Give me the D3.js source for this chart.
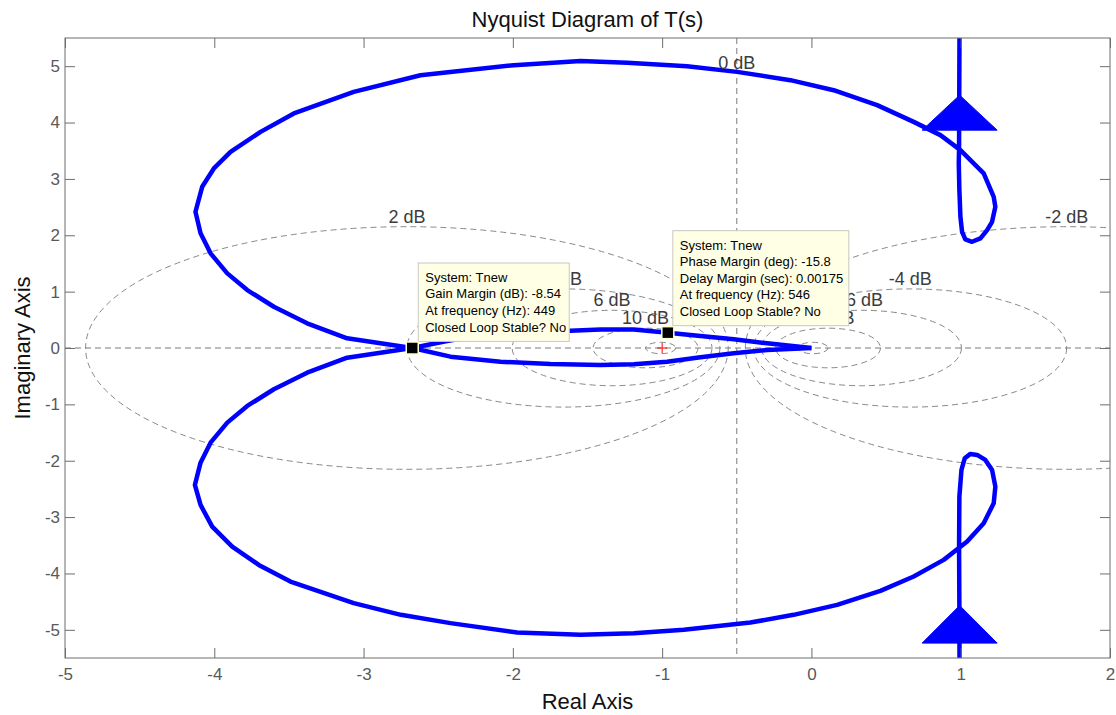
<!DOCTYPE html>
<html>
<head>
<meta charset="utf-8">
<script src="https://cdn.jsdelivr.net/npm/d3@7"></script>
<style>
  html, body { margin: 0; padding: 0; background: #fff; }
  svg { display: block; font-family: "Liberation Sans", Arial, sans-serif; }
</style>
</head>
<body>
<svg id="chart" width="1116" height="715"></svg>
<script>
// ---------------- DATA ----------------
const titleText = "Nyquist Diagram of T(s)";
const xLabelText = "Real Axis";
const yLabelText = "Imaginary Axis";
const xDomain = [-5, 2];
const yDomain = [-5.5, 5.5];
const xTicks = [-5, -4, -3, -2, -1, 0, 1, 2];
const yTicks = [-5, -4, -3, -2, -1, 0, 1, 2, 3, 4, 5];

// M-circle grid (closed-loop gain contours, dB)
const gridDb = [-20, -10, -6, -4, -2, 2, 4, 6, 10, 20];
const labelDb = [-10, -6, -4, -2, 2, 4, 6, 10];
const zeroDbRe = -0.5;

// Branch A: from Im=+inf down the loop, over the upper outer arc, through GM point, lower inner arc to origin
const branchARe = [0.993, 0.989, 0.987, 0.991, 0.998, 1.009, 1.031, 1.076, 1.132, 1.177, 1.210, 1.232, 1.221, 1.154, 0.998, 0.864, 0.685, 0.440, 0.149, -0.141, -0.498, -0.833, -1.234, -1.547, -1.994, -2.619, -3.066, -3.467, -3.690, -3.891, -4.003, -4.081, -4.126, -4.092, -4.025, -3.913, -3.779, -3.601, -3.378, -3.110, -2.887, -2.674, -2.418, -2.083, -1.748, -1.413, -1.190, -0.967, -0.743, -0.520, -0.297, 0.0];
const branchAIm = [6.5, 3.569, 3.275, 2.801, 2.328, 2.062, 1.927, 1.885, 1.945, 2.092, 2.239, 2.505, 2.683, 3.098, 3.511, 3.777, 4.012, 4.309, 4.574, 4.752, 4.899, 5.000, 5.059, 5.090, 5.018, 4.840, 4.544, 4.161, 3.835, 3.481, 3.186, 2.860, 2.417, 2.034, 1.679, 1.324, 1.028, 0.732, 0.438, 0.172, 0.085, 0.0, -0.154, -0.243, -0.284, -0.301, -0.289, -0.243, -0.165, -0.094, -0.035, 0.0];

// Branch B: from Im=-inf up the lower loop, lower outer arc, through GM point, upper inner arc to origin
const branchBRe = [0.993, 0.991, 0.989, 0.991, 1.005, 1.027, 1.065, 1.110, 1.165, 1.210, 1.232, 1.221, 1.154, 1.043, 0.886, 0.685, 0.462, 0.172, -0.119, -0.409, -0.855, -1.190, -1.547, -1.971, -2.418, -2.750, -3.066, -3.490, -3.702, -3.880, -4.014, -4.092, -4.130, -4.092, -4.025, -3.913, -3.779, -3.601, -3.378, -3.110, -2.887, -2.674, -2.450, -2.200, -1.900, -1.614, -1.413, -1.190, -0.962, -0.743, -0.520, -0.297, 0.0];
const branchBIm = [-6.5, -4.587, -3.523, -2.637, -2.163, -1.956, -1.879, -1.897, -1.986, -2.163, -2.459, -2.754, -3.108, -3.434, -3.759, -4.055, -4.309, -4.557, -4.734, -4.871, -5.000, -5.059, -5.089, -5.048, -4.881, -4.734, -4.527, -4.144, -3.848, -3.523, -3.168, -2.784, -2.430, -2.034, -1.679, -1.324, -1.028, -0.732, -0.438, -0.172, -0.085, 0.0, 0.120, 0.235, 0.290, 0.307, 0.330, 0.330, 0.272, 0.213, 0.154, 0.083, 0.0];

// direction arrows (tip and base on the vertical branches)
const arrowRe = [0.993, 0.993];
const arrowTipIm = [4.486, -4.569];
const arrowBaseIm = [3.865, -5.236];

// critical point
const criticalPoint = [-1, 0];

// data tips
const gmPoint = [-2.674, 0];
const gmLines = ["System: Tnew", "Gain Margin (dB): -8.54", "At frequency (Hz): 449", "Closed Loop Stable? No"];
const pmPoint = [-0.962, 0.272];
const pmLines = ["System: Tnew", "Phase Margin (deg): -15.8", "Delay Margin (sec): 0.00175", "At frequency (Hz): 546", "Closed Loop Stable? No"];

// ---------------- CHART ----------------
const svg = d3.select("#chart");
const L = 65, R = 1110, T = 38, B = 658;
const x = d3.scaleLinear().domain(xDomain).range([L, R]);
const y = d3.scaleLinear().domain(yDomain).range([B, T]);

svg.append("rect").attr("width", 1116).attr("height", 715).attr("fill", "#fff");

const defs = svg.append("defs");
defs.append("clipPath").attr("id", "plotclip")
  .append("rect").attr("x", L).attr("y", T).attr("width", R - L).attr("height", B - T);

const plot = svg.append("g").attr("clip-path", "url(#plotclip)");

const gridColor = "#7a7a7a";
const dash = "6,4";

// M circles
gridDb.forEach(db => {
  const M = Math.pow(10, db / 20);
  const c = -M * M / (M * M - 1);
  const r = Math.abs(M / (M * M - 1));
  plot.append("ellipse")
    .attr("cx", x(c)).attr("cy", y(0))
    .attr("rx", x(c + r) - x(c)).attr("ry", y(0) - y(r))
    .attr("fill", "none").attr("stroke", gridColor)
    .attr("stroke-width", 0.9).attr("stroke-dasharray", dash);
});
// 0 dB line
plot.append("line")
  .attr("x1", x(zeroDbRe)).attr("x2", x(zeroDbRe)).attr("y1", T).attr("y2", B)
  .attr("stroke", gridColor).attr("stroke-width", 1).attr("stroke-dasharray", dash);
// real axis
plot.append("line")
  .attr("x1", L).attr("x2", R).attr("y1", y(0)).attr("y2", y(0))
  .attr("stroke", gridColor).attr("stroke-width", 1).attr("stroke-dasharray", dash);

// curves
const line = d3.line().x(d => x(d[0])).y(d => y(d[1]));
[[branchARe, branchAIm], [branchBRe, branchBIm]].forEach(([re, im]) => {
  const pts = re.map((v, i) => [v, im[i]]);
  plot.append("path").attr("d", line(pts))
    .attr("fill", "none").attr("stroke", "#0000ff")
    .attr("stroke-width", 4.5).attr("stroke-linejoin", "round");
});
// arrows
const halfW = 37.5;
arrowRe.forEach((re, i) => {
  const tx = x(re), ty = y(arrowTipIm[i]), by = y(arrowBaseIm[i]);
  plot.append("path")
    .attr("d", `M${tx},${ty}L${tx + halfW},${by}L${tx - halfW},${by}Z`)
    .attr("fill", "#0000ff").attr("stroke", "#0000ff").attr("stroke-width", 1);
});
// critical point
{
  const cx = x(criticalPoint[0]), cy = y(criticalPoint[1]);
  plot.append("path").attr("d", `M${cx - 5},${cy}H${cx + 5}M${cx},${cy - 5}V${cy + 5}`)
    .attr("stroke", "#ff0000").attr("stroke-width", 1);
}

// dB labels
const dbLabelColor = "#3c3c3c";
labelDb.forEach(db => {
  const M = Math.pow(10, db / 20);
  const c = -M * M / (M * M - 1);
  const r = Math.abs(M / (M * M - 1));
  svg.append("text")
    .attr("x", x(c)).attr("y", y(r) - 4)
    .attr("text-anchor", "middle").attr("font-size", 18)
    .attr("fill", dbLabelColor)
    .text(db + " dB");
});
svg.append("text")
  .attr("x", x(zeroDbRe)).attr("y", y(yDomain[1] * 0.9))
  .attr("text-anchor", "middle").attr("font-size", 18)
  .attr("fill", dbLabelColor).text("0 dB");

// axes
const axisColor = "#6e6e6e";
const tickColor = "#595959";
function styleAxis(g) {
  g.select(".domain").remove();
  g.selectAll(".tick line").attr("stroke", axisColor);
  g.selectAll(".tick text").attr("fill", tickColor).attr("font-size", 17)
    .attr("font-family", "Liberation Sans, Arial, sans-serif");
}
svg.append("g").attr("transform", `translate(0,${B})`)
  .call(d3.axisBottom(x).tickValues(xTicks).tickSize(-10).tickPadding(10).tickFormat(d3.format("d")))
  .call(styleAxis);
svg.append("g").attr("transform", `translate(0,${T})`)
  .call(d3.axisTop(x).tickValues(xTicks).tickSize(-10).tickFormat(""))
  .call(styleAxis);
svg.append("g").attr("transform", `translate(${L},0)`)
  .call(d3.axisLeft(y).tickValues(yTicks).tickSize(-10).tickPadding(5).tickFormat(d3.format("d")))
  .call(styleAxis);
svg.append("g").attr("transform", `translate(${R},0)`)
  .call(d3.axisRight(y).tickValues(yTicks).tickSize(-10).tickFormat(""))
  .call(styleAxis);
// replace unicode minus with hyphen to mimic MATLAB
svg.selectAll(".tick text").text(function() { return d3.select(this).text().replace("\u2212", "-"); });

svg.append("rect").attr("x", L).attr("y", T).attr("width", R - L).attr("height", B - T)
  .attr("fill", "none").attr("stroke", axisColor).attr("stroke-width", 1);

// titles
svg.append("text").attr("x", (L + R) / 2).attr("y", 27)
  .attr("text-anchor", "middle").attr("font-size", 22).attr("fill", "#111")
  .text(titleText);
svg.append("text").attr("x", (L + R) / 2).attr("y", 709)
  .attr("text-anchor", "middle").attr("font-size", 22).attr("fill", "#111")
  .text(xLabelText);
svg.append("text").attr("transform", `translate(30,${(T + B) / 2}) rotate(-90)`)
  .attr("text-anchor", "middle").attr("font-size", 22).attr("fill", "#111")
  .text(yLabelText);

// data tips
function dataTip(pt, lines, dx, dy, w) {
  const px = x(pt[0]), py = y(pt[1]);
  const lh = 16.6, h = lines.length * lh + 12;
  const bx = px + dx, by = py + dy;
  const g = svg.append("g");
  g.append("rect").attr("x", bx).attr("y", by).attr("width", w).attr("height", h)
    .attr("fill", "#ffffe6").attr("stroke", "#c8c8c0").attr("stroke-width", 1);
  lines.forEach((t, i) => {
    g.append("text").attr("x", bx + 7).attr("y", by + 6 + lh * i + lh / 2)
      .attr("dy", "0.35em").attr("font-size", 13).attr("fill", "#000").text(t);
  });
  svg.append("rect").attr("x", px - 6).attr("y", py - 6).attr("width", 12).attr("height", 12)
    .attr("fill", "#000").attr("stroke", "#ffffcc").attr("stroke-width", 1.5);
}
dataTip(gmPoint, gmLines, 6, -85, 151);
dataTip(pmPoint, pmLines, 5, -102, 176);
</script>
</body>
</html>
